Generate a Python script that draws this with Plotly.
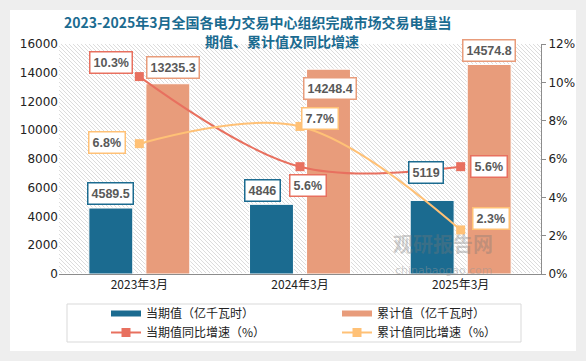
import plotly.graph_objects as go

categories = ["2023年3月", "2024年3月", "2025年3月"]
current_vals = [4589.5, 4846, 5119]
cumul_vals = [13235.3, 14248.4, 14574.8]
current_yoy = [10.3, 5.6, 5.6]
cumul_yoy = [6.8, 7.7, 2.3]

BLUE = "#1b6b90"
ORANGE = "#e89c7b"
RED = "#e8705f"
YEL = "#ffc176"
TXT = "#595959"

W, H = 586, 361
ML, MR, MT, MB = 59, 45, 44, 87
PW, PH = W - ML - MR, H - MT - MB

fig = go.Figure()
fig.add_trace(go.Bar(name="当期值（亿千瓦时）", x=categories, y=current_vals, showlegend=False,
                     marker=dict(color=BLUE, line=dict(color="white", width=1))))
fig.add_trace(go.Bar(name="累计值（亿千瓦时）", x=categories, y=cumul_vals, showlegend=False,
                     marker=dict(color=ORANGE, line=dict(color="white", width=1))))
fig.add_trace(go.Scatter(name="当期值同比增速（%）", x=categories, y=current_yoy, yaxis="y2",
                         mode="lines+markers", line=dict(color=RED, width=2, shape="spline"),
                         marker=dict(symbol="square", size=9, color=RED), showlegend=False))
fig.add_trace(go.Scatter(name="累计值同比增速（%）", x=categories, y=cumul_yoy, yaxis="y2",
                         mode="lines+markers", line=dict(color=YEL, width=2, shape="spline"),
                         marker=dict(symbol="square", size=9, color=YEL), showlegend=False))
# legend entries (styled like the reference's legend keys)
fig.add_trace(go.Scatter(name="当期值（亿千瓦时）", x=[None], y=[None], mode="lines",
                         line=dict(color=BLUE, width=6)))
fig.add_trace(go.Scatter(name="累计值（亿千瓦时）", x=[None], y=[None], mode="lines",
                         line=dict(color=ORANGE, width=6)))
fig.add_trace(go.Scatter(name="当期值同比增速（%）", x=[None], y=[None], mode="lines+markers",
                         line=dict(color=RED, width=2), marker=dict(symbol="square", size=9, color=RED)))
fig.add_trace(go.Scatter(name="累计值同比增速（%）", x=[None], y=[None], mode="lines+markers",
                         line=dict(color=YEL, width=2), marker=dict(symbol="square", size=9, color=YEL)))

ann = []
def lab(x, y, text, color, xs, ys, yref="y"):
    ann.append(dict(x=x, y=y, xref="x", yref=yref, text="<b>%s</b>" % text, showarrow=False,
                    xshift=xs, yshift=ys, font=dict(size=12.5, color=TXT, family="Liberation Sans"),
                    bgcolor="white", bordercolor=color, borderwidth=1.5, borderpad=3))

cur_off = [(-29, 15), (-38, 14), (-35, 28)]
cum_off = [(34, 16), (30, -19), (28, 14)]
for i, c in enumerate(categories):
    lab(c, current_vals[i], "%g" % current_vals[i], BLUE, *cur_off[i])
    lab(c, cumul_vals[i], "%g" % cumul_vals[i], ORANGE, *cum_off[i])
red_off = [(-28, 14), (8, -19), (28, 0)]
yel_off = [(-32, 1), (20, 8), (30, 11)]
for i, c in enumerate(categories):
    lab(c, current_yoy[i], "%.1f%%" % current_yoy[i], RED, *red_off[i], yref="y2")
    lab(c, cumul_yoy[i], "%.1f%%" % cumul_yoy[i], YEL, *yel_off[i], yref="y2")

title_font = dict(size=14, color="#1b6b90", family="Noto Sans CJK SC")
ann.append(dict(xref="paper", yref="paper", x=(258 - ML) / PW, y=1 + (MT - 22) / PH,
                text="<b>2023-2025年3月全国各电力交易中心组织完成市场交易电量当</b>",
                showarrow=False, font=title_font, xanchor="center", yanchor="middle"))
ann.append(dict(xref="paper", yref="paper", x=(282 - ML) / PW, y=1 + (MT - 41) / PH,
                text="<b>期值、累计值及同比增速</b>",
                showarrow=False, font=title_font, xanchor="center", yanchor="middle"))
# watermark
ann.append(dict(xref="paper", yref="paper", x=(495 - ML) / PW, y=1 - (260 - MT) / PH,
                text="<b>观研报告网</b>", showarrow=False,
                font=dict(size=20, color="rgba(120,120,120,0.35)", family="Noto Sans CJK SC")))
ann.append(dict(xref="paper", yref="paper", x=(495 - ML) / PW, y=1 - (279 - MT) / PH,
                text="chinabaogao.com", showarrow=False,
                font=dict(size=11, color="rgba(150,150,150,0.45)", family="DejaVu Sans")))

# diagonal hatch of the plot area as one path, in paper coordinates (paper = plot area)
segs = []
step = 4
for k in range(-PH, PW, step):
    x0, y0 = k, 0
    x1, y1 = k + PH, PH
    if x0 < 0:
        y0 = -x0; x0 = 0
    if x1 > PW:
        y1 = PH - (x1 - PW); x1 = PW
    segs.append("M%.4f,%.4f L%.4f,%.4f" % (x0 / PW, 1 - y0 / PH, x1 / PW, 1 - y1 / PH))
hatch_path = " ".join(segs)

shapes = [
    dict(type="path", xref="paper", yref="paper", path=hatch_path,
         line=dict(color="#dcdcdc", width=1), layer="below"),
    # grey outer frame around the white card
    dict(type="rect", xref="paper", yref="paper", x0=(0 - ML) / PW, x1=(W - ML) / PW,
         y0=1 - (H - MT) / PH, y1=1 + MT / PH, fillcolor="rgba(0,0,0,0)",
         line=dict(width=20, color="#eeeeee")),
    # legend border
    dict(type="rect", xref="paper", yref="paper", x0=(67 - ML) / PW, x1=(521 - ML) / PW,
         y0=1 - (342 - MT) / PH, y1=1 - (304 - MT) / PH, fillcolor="rgba(0,0,0,0)",
         line=dict(width=1, color="#d9d9d9")),
]

fig.update_layout(
    width=W, height=H, margin=dict(l=ML, r=MR, t=MT, b=MB, autoexpand=False),
    paper_bgcolor="white", plot_bgcolor="rgba(0,0,0,0)",
    barmode="group", bargap=0.29, bargroupgap=0.23,
    font=dict(family="Noto Sans CJK SC", size=12, color="#222"),
    xaxis=dict(showline=True, linecolor="#8c8c8c", linewidth=1, ticks="", showgrid=False,
               tickfont=dict(size=12, color="#222")),
    yaxis=dict(range=[0, 16000], dtick=2000, tickformat="d", showgrid=False, showline=False, ticks="",
               tickfont=dict(size=12, color="#222", family="DejaVu Sans")),
    yaxis2=dict(range=[0, 12], dtick=2, overlaying="y", side="right", showgrid=False,
                showline=True, linecolor="#8c8c8c", ticks="outside", ticklen=4, tickcolor="#8c8c8c",
                ticksuffix="%", tickfont=dict(size=12, color="#222", family="DejaVu Sans")),
    legend=dict(orientation="h", x=(106 - ML) / PW, y=1 - (299 - MT) / PH, xanchor="left", yanchor="top",
                entrywidth=186, entrywidthmode="pixels", font=dict(size=12, color="#222"),
                bgcolor="rgba(0,0,0,0)", traceorder="normal", tracegroupgap=0, itemwidth=30),
    annotations=ann, shapes=shapes,
)

fig.write_html("out.html", config={"displayModeBar": False},
               post_script="document.body.style.margin='0px';")
